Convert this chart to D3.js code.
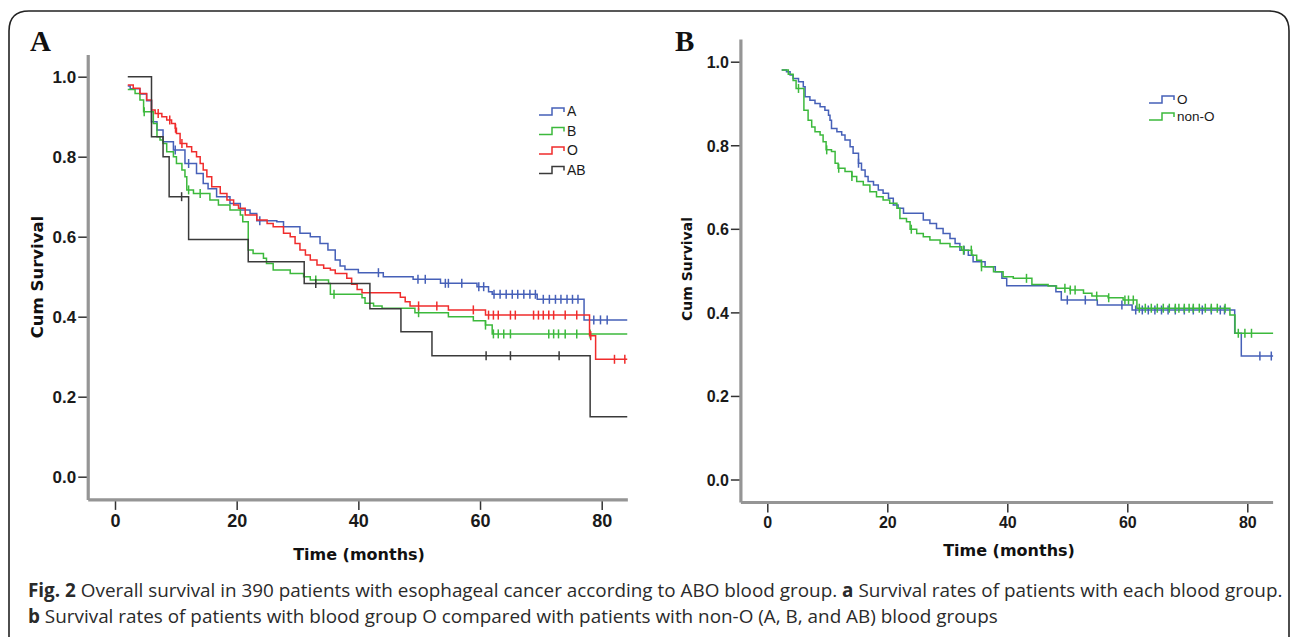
<!DOCTYPE html>
<html lang="en">
<head>
<meta charset="utf-8">
<script src="https://d3js.org/d3.v7.min.js"></script>
<style>
  body { margin: 0; background: #fff; }
  svg { display: block; }
</style>
</head>
<body>
<svg width="1293" height="637"></svg>
<script>

// ---- data ----
var xTicks = [0, 20, 40, 60, 80];
var yTicks = [0, 0.2, 0.4, 0.6, 0.8, 1.0];

// panel A : blood groups A, B, O, AB  (step times in months, survival after step, censor times)
var A_start = [2.1, 0.977];
var A_time = [2.5, 4.1, 5.2, 6.0, 6.9, 7.9, 9.6, 11.5, 13.4, 14.5, 15.3, 16.7, 18.9, 20.6, 22.2, 23.3, 26.6, 27.7, 30.4, 32.1, 33.7, 35.0, 36.2, 37.0, 37.8, 40.0, 44.1, 49.0, 53.5, 59.5, 61.4, 62.0, 69.4, 77.1];
var A_surv = [0.97, 0.957, 0.94, 0.8875, 0.867, 0.8375, 0.817, 0.783, 0.758, 0.733, 0.72, 0.70, 0.683, 0.667, 0.658, 0.64, 0.6375, 0.625, 0.6085, 0.60, 0.583, 0.567, 0.542, 0.527, 0.518, 0.51, 0.50, 0.4935, 0.4835, 0.475, 0.4625, 0.456, 0.4435, 0.392];
var A_cens = [9.9, 12.1, 23.8, 43.3, 49.8, 51.0, 54.3, 54.8, 57.0, 59.8, 60.6, 62.3, 63.3, 64.3, 65.3, 66.2, 67.2, 68.2, 69.1, 70.4, 71.4, 72.4, 73.3, 74.3, 75.2, 76.1, 78.7, 79.8, 80.9];

var B_start = [2.1, 0.968];
var B_time = [3.3, 4.1, 4.7, 6.3, 6.9, 7.4, 7.9, 8.5, 9.6, 10.1, 11.0, 11.5, 11.8, 12.9, 15.6, 17.0, 18.9, 20.6, 21.0, 21.9, 22.7, 24.4, 24.9, 26.0, 28.8, 31.0, 32.1, 35.1, 35.4, 40.6, 41.1, 42.5, 43.9, 49.3, 54.8, 58.9, 60.9, 62.0];
var B_surv = [0.958, 0.942, 0.9125, 0.883, 0.85, 0.842, 0.833, 0.8125, 0.80, 0.783, 0.767, 0.75, 0.717, 0.708, 0.692, 0.679, 0.667, 0.654, 0.6375, 0.567, 0.558, 0.546, 0.533, 0.517, 0.508, 0.50, 0.492, 0.483, 0.456, 0.4475, 0.4335, 0.4268, 0.421, 0.41, 0.40, 0.39, 0.379, 0.357];
var B_cens = [4.8, 12.1, 14.0, 33.0, 36.0, 49.9, 60.9, 62.2, 63.0, 63.9, 65.0, 71.3, 72.1, 72.9, 74.0, 75.9, 78.1];

var O_start = [2.1, 0.979];
var O_time = [3.0, 4.1, 5.2, 6.0, 6.6, 7.7, 8.5, 9.3, 9.9, 10.1, 10.7, 11.8, 12.6, 13.4, 14.0, 14.5, 15.1, 15.9, 17.3, 18.4, 19.5, 20.3, 21.4, 23.3, 25.0, 26.0, 27.7, 28.8, 29.6, 30.4, 31.3, 32.1, 33.2, 34.3, 35.4, 36.2, 38.1, 38.9, 39.8, 40.6, 46.9, 47.7, 48.5, 54.8, 60.9, 78.0, 79.0];
var O_surv = [0.971, 0.958, 0.942, 0.917, 0.908, 0.90, 0.892, 0.883, 0.871, 0.858, 0.833, 0.825, 0.8125, 0.80, 0.783, 0.767, 0.75, 0.725, 0.708, 0.692, 0.679, 0.671, 0.654, 0.642, 0.633, 0.625, 0.6085, 0.60, 0.583, 0.567, 0.554, 0.542, 0.529, 0.521, 0.517, 0.508, 0.496, 0.481, 0.468, 0.46, 0.4485, 0.4375, 0.427, 0.417, 0.404, 0.3525, 0.2935];
var O_cens = [7.1, 9.0, 9.95, 11.0, 49.9, 52.9, 58.9, 61.4, 62.2, 63.0, 65.0, 65.8, 68.8, 69.6, 70.4, 71.3, 72.1, 74.0, 75.9, 78.2, 82.1, 83.8];

var AB_start = [2.1, 1.0];
var AB_time = [6.0, 7.9, 8.9, 12.1, 21.9, 31.1, 41.9, 47.0, 52.1, 78.1];
var AB_surv = [0.85, 0.80, 0.70, 0.593, 0.5375, 0.483, 0.42, 0.3625, 0.3025, 0.15];
var AB_cens = [10.95, 33.0, 61.0, 65.0, 73.0];

// panel B : O vs non-O
var O2_start = [2.4, 0.98];
var O2_time = [3.2, 3.8, 4.3, 5.2, 6.0, 6.3, 7.1, 7.95, 8.8, 9.6, 10.2, 10.45, 10.7, 11.6, 12.4, 12.95, 13.8, 14.3, 15.2, 15.7, 16.3, 16.8, 17.7, 18.5, 19.3, 20.2, 21.0, 21.8, 22.7, 26.0, 27.1, 28.2, 29.3, 30.45, 31.3, 32.1, 33.5, 34.3, 36.3, 38.0, 39.1, 39.9, 48.1, 49.0, 55.0, 60.8, 77.9, 79.0];
var O2_surv = [0.976, 0.968, 0.96, 0.952, 0.94, 0.916, 0.908, 0.90, 0.892, 0.884, 0.872, 0.86, 0.84, 0.8325, 0.8245, 0.8125, 0.7965, 0.781, 0.757, 0.741, 0.725, 0.713, 0.705, 0.693, 0.685, 0.673, 0.657, 0.649, 0.637, 0.621, 0.613, 0.601, 0.589, 0.577, 0.565, 0.549, 0.537, 0.521, 0.509, 0.497, 0.4815, 0.464, 0.4495, 0.4296, 0.4177, 0.4057, 0.35, 0.2955];
var O2_cens = [15.2, 32.8, 50.0, 53.0, 59.1, 61.4, 62.5, 63.5, 64.6, 65.7, 66.8, 68.0, 69.5, 71.0, 72.5, 74.0, 75.5, 76.2, 82.1, 84.0];

var nonO_start = [2.4, 0.98];
var nonO_time = [3.5, 4.3, 4.8, 6.1, 6.8, 7.4, 7.95, 8.8, 9.3, 9.8, 10.7, 11.3, 11.8, 12.95, 14.1, 14.9, 16.0, 17.1, 18.2, 19.3, 20.4, 21.6, 22.1, 23.2, 23.8, 24.9, 26.0, 27.1, 28.8, 30.45, 32.4, 34.1, 34.9, 35.7, 37.7, 39.3, 41.0, 44.1, 46.8, 48.2, 50.45, 52.7, 54.1, 56.8, 59.3, 61.6, 77.1, 77.95];
var nonO_surv = [0.97, 0.955, 0.936, 0.884, 0.86, 0.844, 0.8325, 0.8245, 0.8085, 0.789, 0.785, 0.757, 0.745, 0.737, 0.725, 0.713, 0.705, 0.689, 0.677, 0.669, 0.661, 0.649, 0.625, 0.617, 0.599, 0.589, 0.581, 0.573, 0.565, 0.557, 0.549, 0.537, 0.525, 0.509, 0.497, 0.485, 0.4815, 0.467, 0.463, 0.4575, 0.4535, 0.4455, 0.439, 0.435, 0.4296, 0.41, 0.394, 0.35];
var nonO_cens = [5.2, 9.9, 11.9, 14.1, 24.0, 32.7, 34.0, 35.7, 43.2, 49.6, 50.5, 51.3, 54.9, 56.9, 59.6, 60.2, 61.0, 62.0, 63.0, 64.0, 65.0, 66.0, 67.0, 68.0, 68.6, 69.5, 70.3, 71.0, 72.0, 73.0, 74.0, 75.0, 76.3, 78.5, 79.6, 80.7];

var seriesA = [
  {name: "A",  color: "#4660b8", start: A_start,  time: A_time,  surv: A_surv,  cens: A_cens},
  {name: "B",  color: "#3cb93c", start: B_start,  time: B_time,  surv: B_surv,  cens: B_cens},
  {name: "O",  color: "#f02c2c", start: O_start,  time: O_time,  surv: O_surv,  cens: O_cens},
  {name: "AB", color: "#3a3a3a", start: AB_start, time: AB_time, surv: AB_surv, cens: AB_cens}
];
var seriesB = [
  {name: "O",     color: "#4660b8", start: O2_start,   time: O2_time,   surv: O2_surv,   cens: O2_cens},
  {name: "non-O", color: "#3cb93c", start: nonO_start, time: nonO_time, surv: nonO_surv, cens: nonO_cens}
];

var svg = d3.select("svg");
var sans = "'Liberation Sans', Arial, sans-serif";
var verd = "'DejaVu Sans', Verdana, sans-serif";

// figure frame
svg.append("path")
  .attr("d", "M9,660 V31 Q9,11 29,11 H1269 Q1289,11 1289,31 V660")
  .attr("fill", "none").attr("stroke", "#222").attr("stroke-width", 1.6);

function survAt(s, t) {
  var v = s.start[1];
  for (var i = 0; i < s.time.length; i++) { if (s.time[i] <= t) v = s.surv[i]; }
  return v;
}

function drawPanel(p) {
  var x = d3.scaleLinear().domain([0, 80]).range(p.xr);
  var y = d3.scaleLinear().domain([0, 1]).range(p.yr);
  var g = svg.append("g");

  var axX = x(p.tMin), axY = y(p.vMin);

  // y ticks
  var ya = g.append("g").attr("transform", "translate(" + axX + ",0)")
    .call(d3.axisLeft(y).tickValues(yTicks).tickFormat(d3.format(".1f")).tickSize(10).tickPadding(2));
  ya.select(".domain").remove();
  ya.selectAll("line").attr("stroke", "#333").attr("stroke-width", 1.5);
  ya.selectAll("text").attr("font-family", sans).attr("font-weight", "bold")
    .attr("font-size", p.yFont).attr("fill", "#1a1a1a").attr("dy", "0.36em");

  // x ticks
  var xa = g.append("g").attr("transform", "translate(0," + axY + ")")
    .call(d3.axisBottom(x).tickValues(xTicks).tickSize(10).tickPadding(4));
  xa.select(".domain").remove();
  xa.selectAll("line").attr("stroke", "#333").attr("stroke-width", 1.5);
  xa.selectAll("text").attr("font-family", sans).attr("font-weight", "bold")
    .attr("font-size", p.xFont).attr("fill", "#1a1a1a");

  // grey axis lines
  g.append("line").attr("x1", axX).attr("x2", axX).attr("y1", y(p.vMax)).attr("y2", axY)
    .attr("stroke", "#959595").attr("stroke-width", 3.2);
  g.append("line").attr("x1", axX).attr("x2", x(p.tMax)).attr("y1", axY).attr("y2", axY)
    .attr("stroke", "#959595").attr("stroke-width", 3.2);

  // axis titles
  g.append("text").attr("x", p.xTitle[0]).attr("y", p.xTitle[1]).attr("text-anchor", "middle")
    .attr("font-family", verd).attr("font-weight", "bold").attr("font-size", 16).attr("fill", "#111")
    .text("Time (months)");
  g.append("text").attr("transform", "translate(" + p.yTitle[0] + "," + p.yTitle[1] + ") rotate(-90)")
    .attr("text-anchor", "middle")
    .attr("font-family", verd).attr("font-weight", "bold").attr("font-size", p.yTitleFont).attr("fill", "#111")
    .text("Cum Survival");

  // panel letter
  g.append("text").attr("x", p.letter[0]).attr("y", p.letter[1])
    .attr("font-family", "'Liberation Serif', 'Times New Roman', serif").attr("font-weight", "bold")
    .attr("font-size", 29).attr("fill", "#111").text(p.letter[2]);

  var line = d3.line().x(function (d) { return x(d[0]); }).y(function (d) { return y(d[1]); })
    .curve(d3.curveStepAfter);

  p.series.forEach(function (s) {
    var pts = [s.start];
    s.time.forEach(function (t, i) { pts.push([t, s.surv[i]]); });
    pts.push([p.tEnd, s.surv[s.surv.length - 1]]);
    g.append("path").attr("d", line(pts)).attr("fill", "none")
      .attr("stroke", s.color).attr("stroke-width", 1.5);
    g.selectAll(null).data(s.cens).enter().append("line")
      .attr("x1", function (c) { return x(c); }).attr("x2", function (c) { return x(c); })
      .attr("y1", function (c) { return y(survAt(s, c)) - 4.5; })
      .attr("y2", function (c) { return y(survAt(s, c)) + 4.5; })
      .attr("stroke", s.color).attr("stroke-width", 1.5);
  });

  // legend
  var lg = g.append("g").attr("transform", "translate(" + p.legend[0] + "," + p.legend[1] + ")");
  p.series.forEach(function (s, i) {
    var cy = i * p.legend[2];
    lg.append("path")
      .attr("d", "M0," + (cy + 4) + " H13 V" + (cy - 3) + " H25 V" + (cy + 1))
      .attr("fill", "none").attr("stroke", s.color).attr("stroke-width", 1.5);
    lg.append("text").attr("x", 28).attr("y", cy).attr("dy", "0.36em")
      .attr("font-family", sans).attr("font-size", p.legFont).attr("fill", "#1a1a1a").text(s.name);
  });
}

drawPanel({
  series: seriesA, xr: [115, 601.7], yr: [476.7, 76.7],
  tMin: -4.4, tMax: 84.3, vMin: -0.058, vMax: 1.054, tEnd: 84.2,
  yFont: 17, xFont: 18, yTitleFont: 16.5,
  xTitle: [359, 560], yTitle: [43, 277], letter: [30, 51, "A"],
  legend: [539, 111, 19.5], legFont: 14
});

drawPanel({
  series: seriesB, xr: [767.3, 1247.3], yr: [479.5, 61.7],
  tMin: -4.4, tMax: 84.3, vMin: -0.055, vMax: 1.053, tEnd: 84.3,
  yFont: 16, xFont: 16, yTitleFont: 14,
  xTitle: [1009, 556], yTitle: [692, 269], letter: [675, 51, "B"],
  legend: [1149, 99, 17], legFont: 13.5
});

// caption
var capFont = "'Open Sans', 'Liberation Sans', sans-serif";
var cap1 = svg.append("text").attr("x", 28).attr("y", 597)
  .attr("font-family", capFont).attr("font-size", 19).attr("fill", "#2a2a2a");
cap1.append("tspan").attr("font-weight", "bold").text("Fig. 2");
cap1.append("tspan").text(" Overall survival in 390 patients with esophageal cancer according to ABO blood group. ");
cap1.append("tspan").attr("font-weight", "bold").text("a");
cap1.append("tspan").text(" Survival rates of patients with each blood group.");
var cap2 = svg.append("text").attr("x", 28).attr("y", 623)
  .attr("font-family", capFont).attr("font-size", 19).attr("fill", "#2a2a2a");
cap2.append("tspan").attr("font-weight", "bold").text("b");
cap2.append("tspan").text(" Survival rates of patients with blood group O compared with patients with non-O (A, B, and AB) blood groups");

// squeeze both caption lines by the same factor so line 1 spans the frame
var k = 1255 / cap1.node().getComputedTextLength();
cap1.attr("transform", "translate(28,0) scale(" + k + ",1) translate(-28,0)");
cap2.attr("transform", "translate(28,0) scale(" + k + ",1) translate(-28,0)");

</script>
</body>
</html>
